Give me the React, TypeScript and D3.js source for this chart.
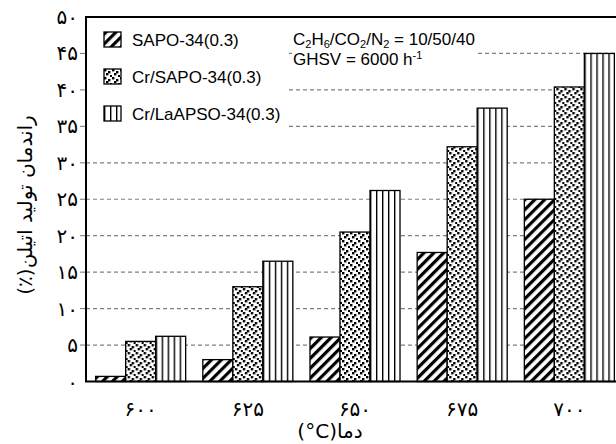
import * as d3 from "d3";

// داده‌ها
const temps = ["600", "625", "650", "675", "700"];
const seriesKeys = ["sapo", "crSapo", "crLaApso"];
const seriesNames = ["SAPO-34(0.3)", "Cr/SAPO-34(0.3)", "Cr/LaAPSO-34(0.3)"];
const sapo = [0.7, 3.0, 6.1, 17.7, 25.0];
const crSapo = [5.5, 13.0, 20.5, 32.2, 40.4];
const crLaApso = [6.2, 16.5, 26.2, 37.5, 45.0];
const yTicks = [0, 5, 10, 15, 20, 25, 30, 35, 40, 45, 50];

const W = 616;
const H = 444;
const left = 86;
const right = 624;
const top = 17;
const bottom = 381.5;

const faDigits = "۰۱۲۳۴۵۶۷۸۹";
const toFa = (s: string | number) => String(s).replace(/\d/g, (d) => faDigits[+d]);

const persianFont = "'DejaVu Sans', sans-serif";
const latinFont = "'Liberation Sans', Arial, sans-serif";

export default function App() {
  const values: Record<string, number[]> = { sapo, crSapo, crLaApso };
  const fills: Record<string, string> = {
    sapo: "url(#hatch)",
    crSapo: "url(#dots)",
    crLaApso: "url(#vlines)",
  };

  const y = d3.scaleLinear().domain([0, 50]).range([bottom, top]);
  const x = d3.scaleBand<string>().domain(temps).range([left, right]).paddingInner(0.16).paddingOuter(0.09);
  const x1 = d3.scaleBand<string>().domain(seriesKeys).range([0, x.bandwidth()]);

  const grid = yTicks.filter((t) => t > 0 && t < 50);
  // staggered square dots in one 8x8 tile
  const dots = [
    [0, 0], [4, 2], [2, 4], [6, 6],
  ];

  return (
    <svg width={W} height={H} style={{ position: "absolute", left: 0, top: 0, background: "#fff" }}>
      <defs>
        <pattern id="hatch" patternUnits="userSpaceOnUse" width={7} height={7} patternTransform="rotate(45)">
          <rect width={7} height={7} fill="#fff" />
          <rect x={0} width={3.2} height={7} fill="#000" />
        </pattern>
        <pattern id="dots" patternUnits="userSpaceOnUse" width={8} height={8}>
          <rect width={8} height={8} fill="#fff" />
          {dots.map(([dx, dy], i) => (
            <rect key={i} x={dx} y={dy} width={2.4} height={2.4} fill="#000" />
          ))}
        </pattern>
        <pattern id="vlines" patternUnits="userSpaceOnUse" width={6} height={10}>
          <rect width={6} height={10} fill="#fff" />
          <rect x={0} width={1.4} height={10} fill="#000" />
        </pattern>
      </defs>

      {/* gridlines */}
      {grid.map((t) => (
        <line
          key={t}
          x1={left}
          x2={right}
          y1={y(t)}
          y2={y(t)}
          stroke="#808080"
          strokeWidth={1.2}
          strokeDasharray="4,3"
        />
      ))}

      {/* legend + annotation backgrounds hide the grid */}
      <rect x={left + 1} y={top + 1} width={201} height={118} fill="#fff" />
      <rect x={292} y={top + 1} width={186} height={44} fill="#fff" />

      {/* left ticks */}
      {grid.map((t) => (
        <line key={t} x1={left - 6} x2={left} y1={y(t)} y2={y(t)} stroke="#777" strokeWidth={1} />
      ))}

      {/* bars */}
      {temps.map((t, i) => (
        <g key={t} transform={`translate(${x(t)},0)`}>
          {seriesKeys.map((k) => {
            const v = values[k][i];
            return (
              <rect
                key={k}
                x={x1(k)}
                y={y(v)}
                width={x1.bandwidth()}
                height={y(0) - y(v)}
                fill={fills[k]}
                stroke="#000"
                strokeWidth={1.3}
              />
            );
          })}
        </g>
      ))}

      {/* frame */}
      <path d={`M${right},${top}H${left}V${bottom}H${right}`} fill="none" stroke="#000" strokeWidth={2} />

      {/* y tick labels */}
      {yTicks.map((t) => (
        <text
          key={t}
          x={left - 8}
          y={y(t) + 7}
          textAnchor="end"
          fontFamily={persianFont}
          fontSize={20}
          fill="#000"
        >
          {toFa(t)}
        </text>
      ))}

      {/* x tick labels */}
      {temps.map((t) => (
        <text
          key={t}
          x={(x(t) as number) + x.bandwidth() / 2}
          y={416}
          textAnchor="middle"
          fontFamily={persianFont}
          fontSize={20}
          fill="#000"
        >
          {toFa(t)}
        </text>
      ))}

      {/* axis titles */}
      <text
        x={330}
        y={438}
        textAnchor="middle"
        direction="rtl"
        fontFamily={persianFont}
        fontSize={20}
        fill="#000"
      >
        {"دما(\u200E°C)"}
      </text>
      <text
        transform="translate(32,205) rotate(-90)"
        textAnchor="middle"
        direction="rtl"
        fontFamily={persianFont}
        fontSize={20}
        fill="#000"
      >
        راندمان تولید اتیلن(٪)
      </text>

      {/* legend */}
      {seriesKeys.map((k, i) => (
        <g key={k} transform={`translate(104,${32 + i * 37})`}>
          <rect x={0} y={0} width={17} height={15} fill={fills[k]} stroke="#000" strokeWidth={1.3} />
          <text x={28} y={14} fontFamily={latinFont} fontSize={17} fill="#000">
            {seriesNames[i]}
          </text>
        </g>
      ))}

      {/* conditions */}
      <text x={293} y={45} fontFamily={latinFont} fontSize={17} fill="#000">
        C<tspan fontSize={11} dy={3}>2</tspan>
        <tspan dy={-3}>H</tspan>
        <tspan fontSize={11} dy={3}>6</tspan>
        <tspan dy={-3}>/CO</tspan>
        <tspan fontSize={11} dy={3}>2</tspan>
        <tspan dy={-3}>/N</tspan>
        <tspan fontSize={11} dy={3}>2</tspan>
        <tspan dy={-3}> = 10/50/40</tspan>
      </text>
      <text x={293} y={65} fontFamily={latinFont} fontSize={17} fill="#000">
        GHSV = 6000 h<tspan fontSize={11} dy={-6}>-1</tspan>
      </text>
    </svg>
  );
}
